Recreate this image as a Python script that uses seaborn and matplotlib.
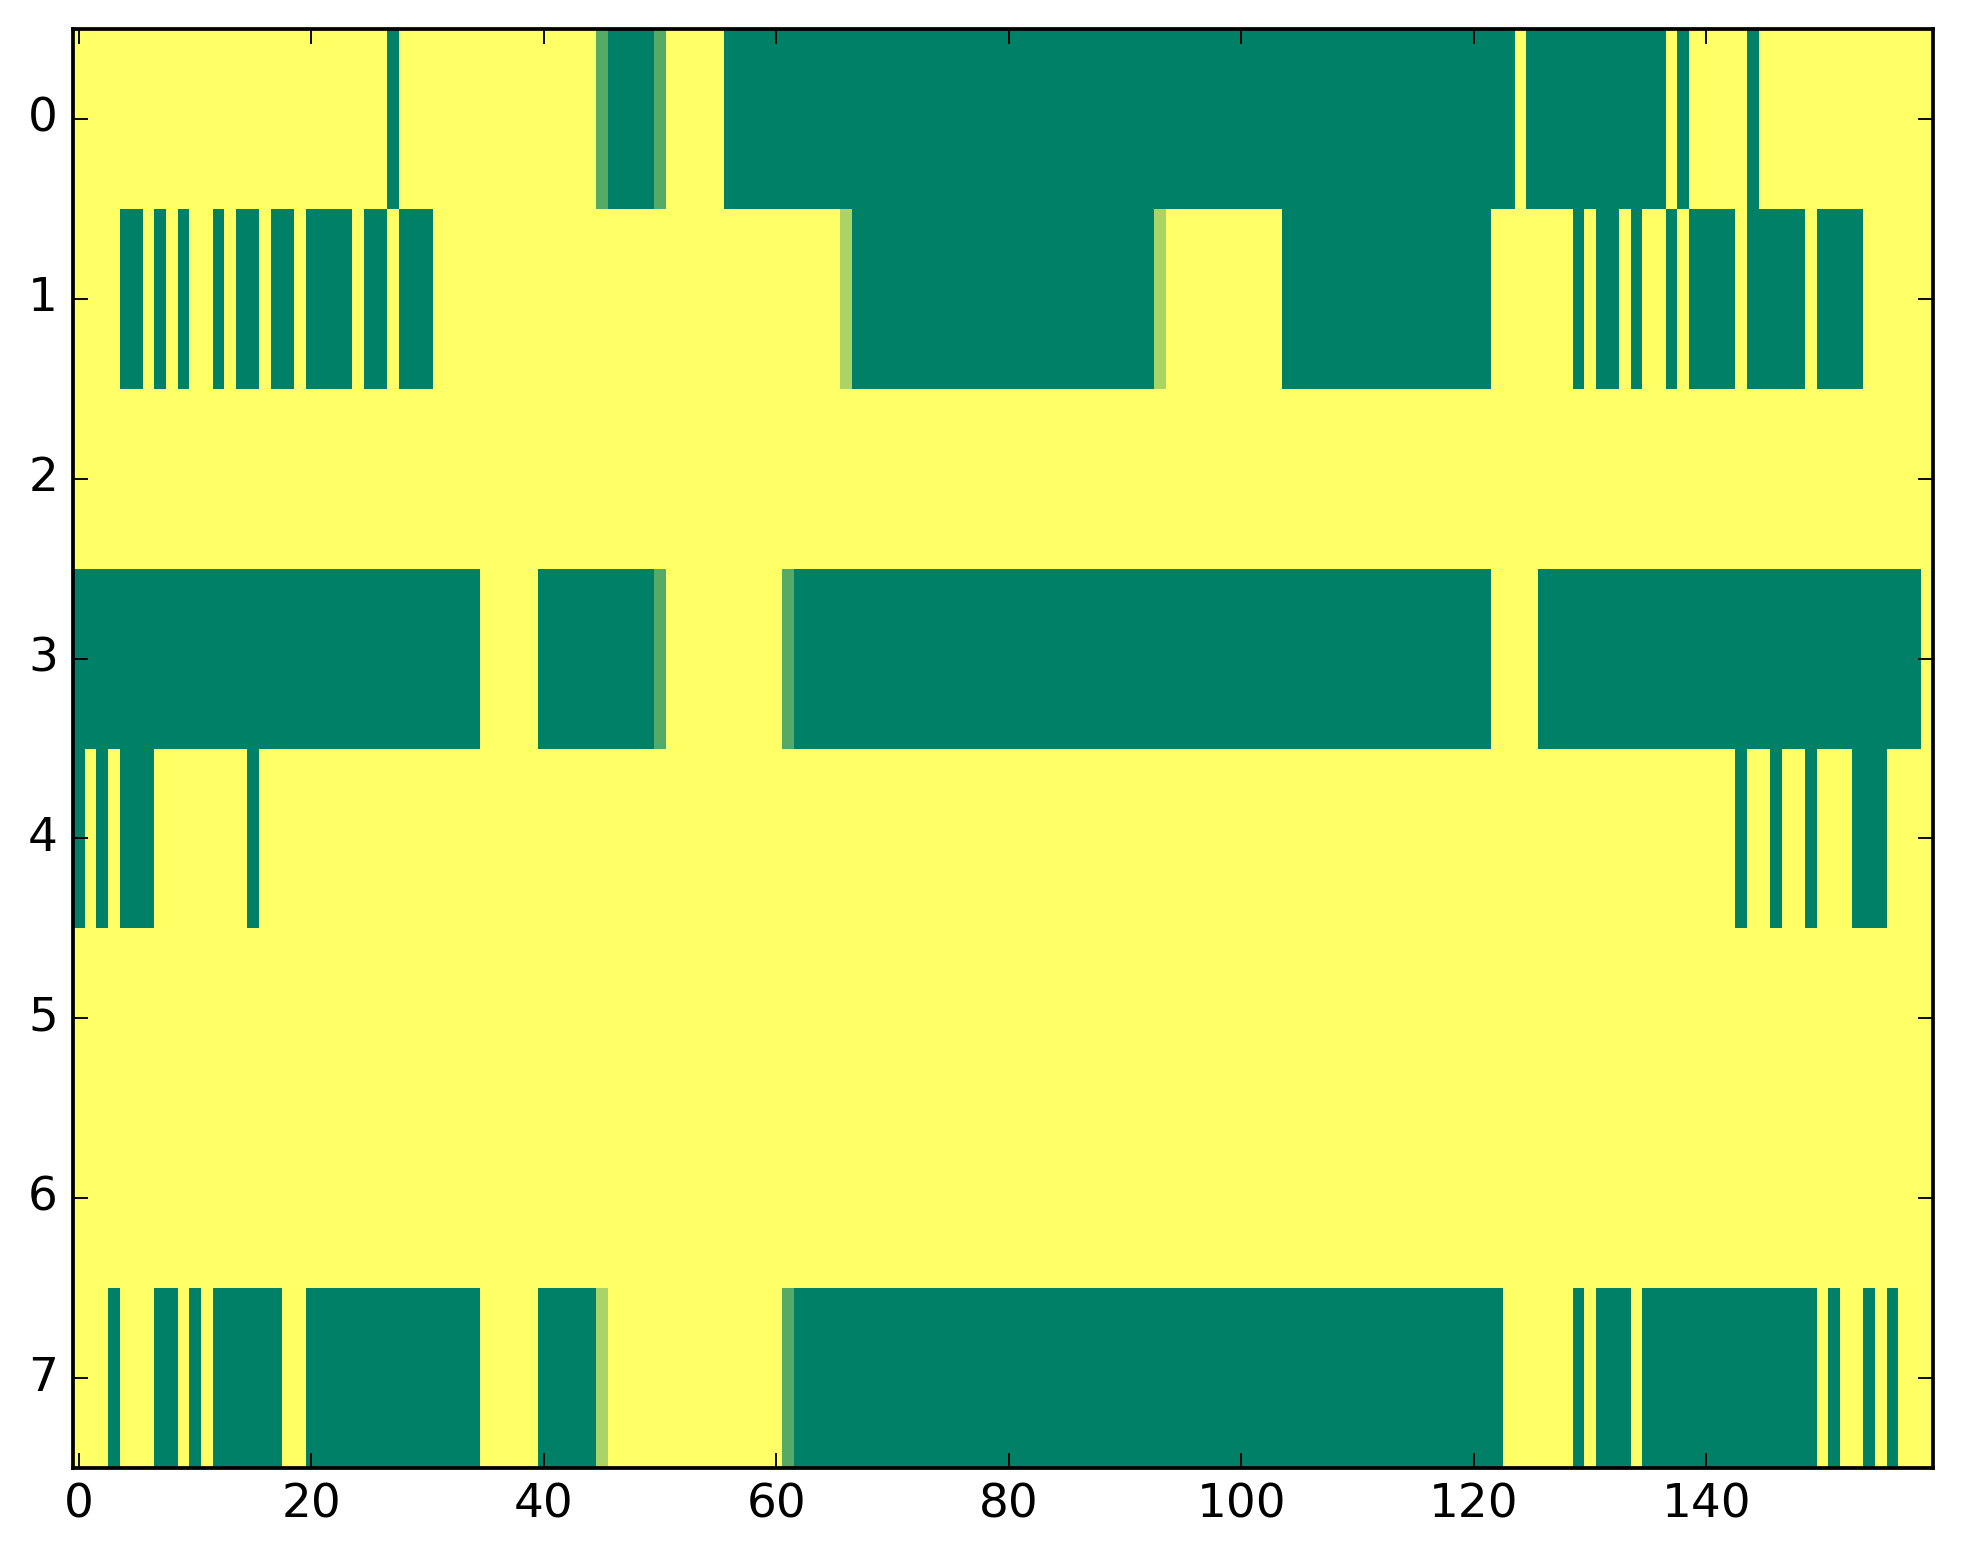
import numpy as np
import seaborn as sns
from matplotlib import pyplot as plt


DPI = 270

# each row is a list of (level, run length), level in thirds
row_0 = [(0, 27), (3, 1), (0, 17), (2, 1), (3, 4), (2, 1), (0, 5), (3, 68),
         (0, 1), (3, 12), (0, 1), (3, 1), (0, 5), (3, 1), (0, 15)]
row_1 = [(0, 4), (3, 2), (0, 1), (3, 1), (0, 1), (3, 1), (0, 2), (3, 1), (0, 1),
         (3, 2), (0, 1), (3, 2), (0, 1), (3, 4), (0, 1), (3, 2), (0, 1), (3, 3),
         (0, 35), (1, 1), (3, 26), (1, 1), (0, 10), (3, 18), (0, 7), (3, 1),
         (0, 1), (3, 2), (0, 1), (3, 1), (0, 2), (3, 1), (0, 1), (3, 4), (0, 1),
         (3, 5), (0, 1), (3, 4), (0, 6)]
row_2 = [(0, 160)]
row_3 = [(3, 35), (0, 5), (3, 10), (2, 1), (0, 10), (2, 1), (3, 60), (0, 4),
         (3, 33), (0, 1)]
row_4 = [(3, 1), (0, 1), (3, 1), (0, 1), (3, 3), (0, 8), (3, 1), (0, 127),
         (3, 1), (0, 2), (3, 1), (0, 2), (3, 1), (0, 3), (3, 3), (0, 4)]
row_5 = [(0, 160)]
row_6 = [(0, 160)]
row_7 = [(0, 3), (3, 1), (0, 3), (3, 2), (0, 1), (3, 1), (0, 1), (3, 6), (0, 2),
         (3, 15), (0, 5), (3, 5), (1, 1), (0, 15), (2, 1), (3, 61), (0, 6),
         (3, 1), (0, 1), (3, 3), (0, 1), (3, 15), (0, 1), (3, 1), (0, 2), (3, 1),
         (0, 1), (3, 1), (0, 3)]

x_ticks = [0, 20, 40, 60, 80, 100, 120, 140]
y_ticks = [0, 1, 2, 3, 4, 5, 6, 7]


def expand(runs):
    vals = []
    for level, n in runs:
        vals += [level / 3.0] * n
    return vals


def main():
    grid = np.array([expand(r) for r in
                     [row_0, row_1, row_2, row_3, row_4, row_5, row_6, row_7]])

    sns.set_style("white")
    plt.rcParams["font.family"] = ["DejaVu Sans"]
    plt.rcParams["font.size"] = 12.5

    fig = plt.figure(figsize=(1963 / DPI, 1564 / DPI), dpi=DPI)
    ax = fig.add_axes([73 / 1963, 1 - 1468 / 1564, 1860 / 1963, 1439 / 1564])
    sns.heatmap(grid, cmap="summer_r", vmin=0, vmax=1, cbar=False, ax=ax)
    ax.set_axisbelow(False)

    ax.set_xticks(np.array(x_ticks) + 0.5)
    ax.set_xticklabels([str(t) for t in x_ticks], rotation=0)
    ax.set_yticks(np.array(y_ticks) + 0.5)
    ax.set_yticklabels([str(t) for t in y_ticks], rotation=0)
    ax.tick_params(direction="in", length=4, width=0.5, pad=4,
                   top=True, right=True, bottom=True, left=True,
                   labelsize=12.5, colors="black")
    for s in ax.spines.values():
        s.set_visible(True)
        s.set_linewidth(1.0)
        s.set_color("black")
        s.set_zorder(3)

    fig.savefig("out.png", dpi=DPI)


if __name__ == "__main__":
    main()
